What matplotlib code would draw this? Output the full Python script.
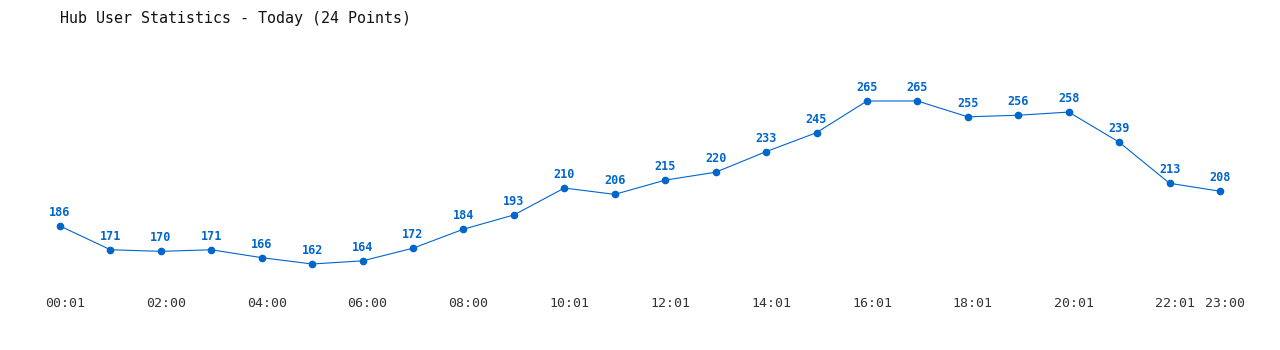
import matplotlib
matplotlib.use("Agg")
import matplotlib.pyplot as plt
from matplotlib.transforms import ScaledTranslation

# data
times = ["00:01", "01:00", "02:00", "03:00", "04:00", "05:00", "06:00", "07:00",
         "08:00", "09:00", "10:01", "11:01", "12:01", "13:01", "14:01", "15:01",
         "16:01", "17:01", "18:01", "19:01", "20:01", "21:01", "22:01", "23:00"]
users = [186, 171, 170, 171, 166, 162, 164, 172, 184, 193, 210, 206,
         215, 220, 233, 245, 265, 265, 255, 256, 258, 239, 213, 208]
tick_idx = [0, 2, 4, 6, 8, 10, 12, 14, 16, 18, 20, 22, 23]

blue = "#0066cc"
mono = "DejaVu Sans Mono"

fig = plt.figure(figsize=(12.8, 3.5), dpi=100)
ax = fig.add_axes([60 / 1280, 86 / 350, 1160 / 1280, 163 / 350])

x = list(range(len(users)))
ax.plot(x, users, color=blue, linewidth=0.8, marker="o", markersize=4.5,
        clip_on=False, zorder=3)
for i, v in enumerate(users):
    ax.annotate(str(v), (i, v), xytext=(0, 5), textcoords="offset points",
                ha="center", va="bottom", color=blue, fontsize=8.5,
                fontweight="bold", family=mono)

ax.set_xlim(0, 23)
ax.set_ylim(162, 265)
ax.set_xticks(tick_idx)
ax.set_xticklabels([times[i] for i in tick_idx], family=mono, fontsize=9.5,
                   color="#333333")
ax.tick_params(axis="x", length=0, pad=24)
# labels sit a few pixels right of their points in the original
shift = ScaledTranslation(5 / 100, 0, fig.dpi_scale_trans)
for lbl in ax.get_xticklabels():
    lbl.set_transform(lbl.get_transform() + shift)
ax.set_yticks([])
for s in ax.spines.values():
    s.set_visible(False)

fig.text(60 / 1280, 1 - 18 / 350, "Hub User Statistics - Today (24 Points)",
         family=mono, fontsize=10.8, color="#111111", va="center", ha="left")

fig.savefig("out.png", dpi=100)
